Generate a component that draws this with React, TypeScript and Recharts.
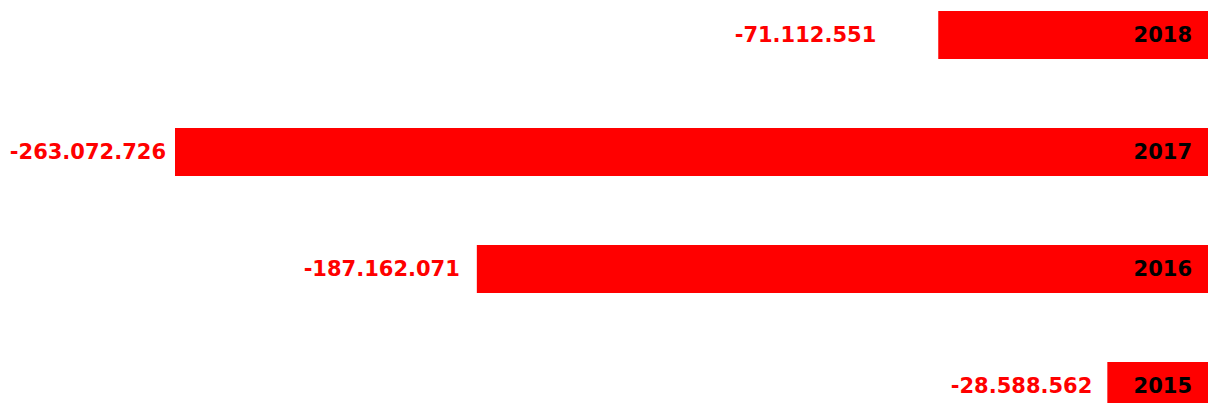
import { BarChart, Bar, XAxis, YAxis, LabelList } from "recharts";

const years = ["2018", "2017", "2016", "2015"];
const results = [-71112551, -263072726, -187162071, -28588562];

const data = years.map((year, i) => ({ year, value: results[i] }));

// gap between value label and bar start (per year, as in the original)
const labelGaps: Record<string, number> = { "2018": 62, "2017": 9, "2016": 17, "2015": 15 };

const fmt = (v: number) => {
  const s = Math.abs(v).toString().replace(/\B(?=(\d{3})+(?!\d))/g, ".");
  return (v < 0 ? "-" : "") + s;
};

const FONT = "'DejaVu Sans', Verdana, sans-serif";

const ValueLabel = (props: any) => {
  const { x, y, width, height, value, index } = props;
  const left = Math.min(x, x + width);
  const gap = labelGaps[years[index]] ?? 10;
  return (
    <text
      x={left - gap}
      y={y + height / 2}
      textAnchor="end"
      dominantBaseline="central"
      fill="#ff0000"
      fontFamily={FONT}
      fontWeight="bold"
      fontSize={21}
    >
      {fmt(value)}
    </text>
  );
};

const YearLabel = (props: any) => {
  const { x, y, width, height, value } = props;
  const right = Math.max(x, x + width);
  return (
    <text
      x={right - 29}
      y={y + height / 2}
      textAnchor="end"
      dominantBaseline="central"
      fill="#000"
      fontFamily={FONT}
      fontWeight="bold"
      fontSize={21}
    >
      {value}
    </text>
  );
};

export default function App() {
  const minVal = Math.min(...results);
  return (
    <div
      style={{
        position: "fixed",
        left: 0,
        top: 0,
        width: 1208,
        height: 403,
        overflow: "hidden",
        background: "#fff",
      }}
    >
      <div style={{ position: "absolute", left: 0, top: -24 }}>
        <BarChart
          width={1221}
          height={468}
          data={data}
          layout="vertical"
          margin={{ top: 0, right: 0, bottom: 0, left: 175 }}
          barCategoryGap={0}
        >
          <XAxis type="number" domain={[minVal, 0]} hide />
          <YAxis type="category" dataKey="year" hide />
          <Bar dataKey="value" fill="#ff0000" barSize={48} isAnimationActive={false}>
            <LabelList dataKey="value" content={ValueLabel} />
            <LabelList dataKey="year" content={YearLabel} />
          </Bar>
        </BarChart>
      </div>
    </div>
  );
}
